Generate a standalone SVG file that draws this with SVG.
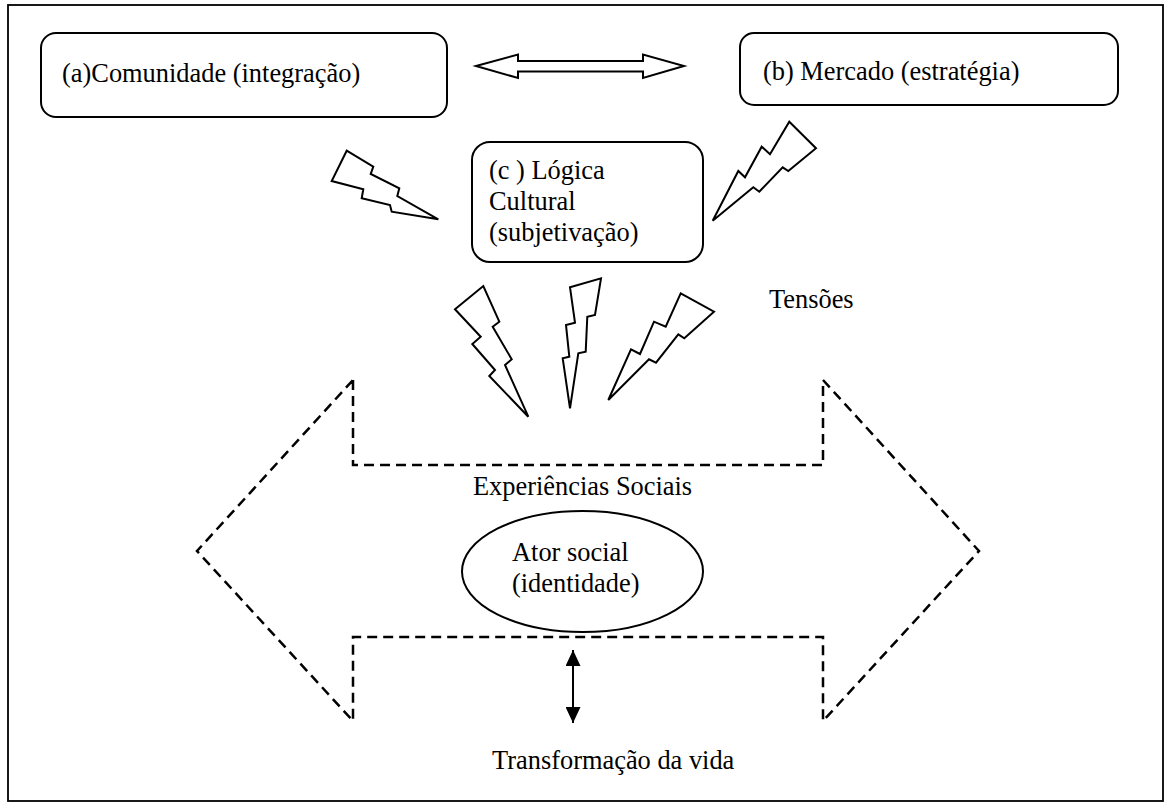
<svg xmlns="http://www.w3.org/2000/svg" width="1172" height="807" viewBox="0 0 1172 807">
<style>
.t{font-family:"Liberation Serif","Times New Roman",serif;font-size:26.4px;fill:#000}
.box{fill:#fff;stroke:#000;stroke-width:2}
.bolt{fill:#fff;stroke:#000;stroke-width:2;stroke-linejoin:miter}
.dash{fill:none;stroke:#000;stroke-width:2.5;stroke-dasharray:10 6}
</style>
<defs>
<marker id="ah" viewBox="0 0 16 15" refX="16" refY="7.5" markerWidth="16" markerHeight="15" markerUnits="userSpaceOnUse" orient="auto-start-reverse">
<path d="M0,0 L16,7.5 L0,15 z" fill="#000"/>
</marker>
</defs>
<rect x="8" y="5" width="1155" height="796" fill="#fff" stroke="#000" stroke-width="1.8"/>
<g id="connectors">
<path id="arrow-ab" d="M476,66 L518,54.5 L518,61 L643,61 L643,54.5 L684,66 L643,78 L643,71.5 L518,71.5 L518,78 Z" fill="#fff" stroke="#000" stroke-width="2" stroke-linejoin="miter"/>
<polygon class="bolt" points="346.7,150.7 373.3,166.7 370.7,174 399.3,188.3 397.3,196 438.3,219.3 391.7,211.7 390,205 361.7,198.3 363.3,189.3 331.7,181"/>
<polygon class="bolt" points="789.3,121.7 816,148.3 788.3,171 782.7,167.3 759.3,191.7 753.3,187.3 712.7,220.7 738.3,171 745,177.3 761.7,146.7 770,154.3"/>
<polygon class="bolt" points="455,309.3 483.3,286 499.3,321.7 492.7,326.7 511.7,359.3 505,365 528.3,416.7 489.3,376 495,370 472.3,344 480.7,336.7"/>
<polygon class="bolt" points="570,287.3 601,278.3 595,315 587.3,316.7 585.7,351.7 578.3,353.3 570,408.3 562.7,358.3 569.3,356.7 566,325 575,322.7"/>
<polygon class="bolt" points="680.7,293.3 714,311.7 684.3,338.3 678.3,334.3 656,362.7 649,359.3 608.3,400 631,349.3 640,354 654,321.7 665.7,326.7"/>
<path id="arrow-vida" d="M573,650 L573,723" stroke="#000" stroke-width="2" fill="none" marker-start="url(#ah)" marker-end="url(#ah)"/>
</g>
<g id="experiencias">
<path class="dash" d="M353,380 L353,465 L823,465 L823,380 L979,551 L823,721 L823,637 L353,637 L353,721 L197,551 Z"/>
<text class="t" x="473" y="495">Experiências Sociais</text>
</g>
<g id="comunidade">
<rect class="box" x="41" y="33" width="406" height="84" rx="15"/>
<text class="t" x="62" y="82">(a)Comunidade (integração)</text>
</g>
<g id="mercado">
<rect class="box" x="740" y="33" width="378" height="72" rx="14"/>
<text class="t" x="763" y="80">(b) Mercado (estratégia)</text>
</g>
<g id="logica">
<rect class="box" x="472" y="142" width="231" height="120" rx="18"/>
<text class="t" x="489" y="179">(c ) Lógica</text>
<text class="t" x="489" y="210">Cultural</text>
<text class="t" x="489" y="241">(subjetivação)</text>
</g>
<g id="tensoes">
<text class="t" x="769" y="308">Tensões</text>
</g>
<g id="ator">
<ellipse class="box" cx="582.5" cy="571.5" rx="120.5" ry="60.5"/>
<text class="t" x="512" y="561">Ator social</text>
<text class="t" x="512" y="592">(identidade)</text>
</g>
<g id="transformacao">
<text class="t" x="492" y="769">Transformação da vida</text>
</g>
</svg>
